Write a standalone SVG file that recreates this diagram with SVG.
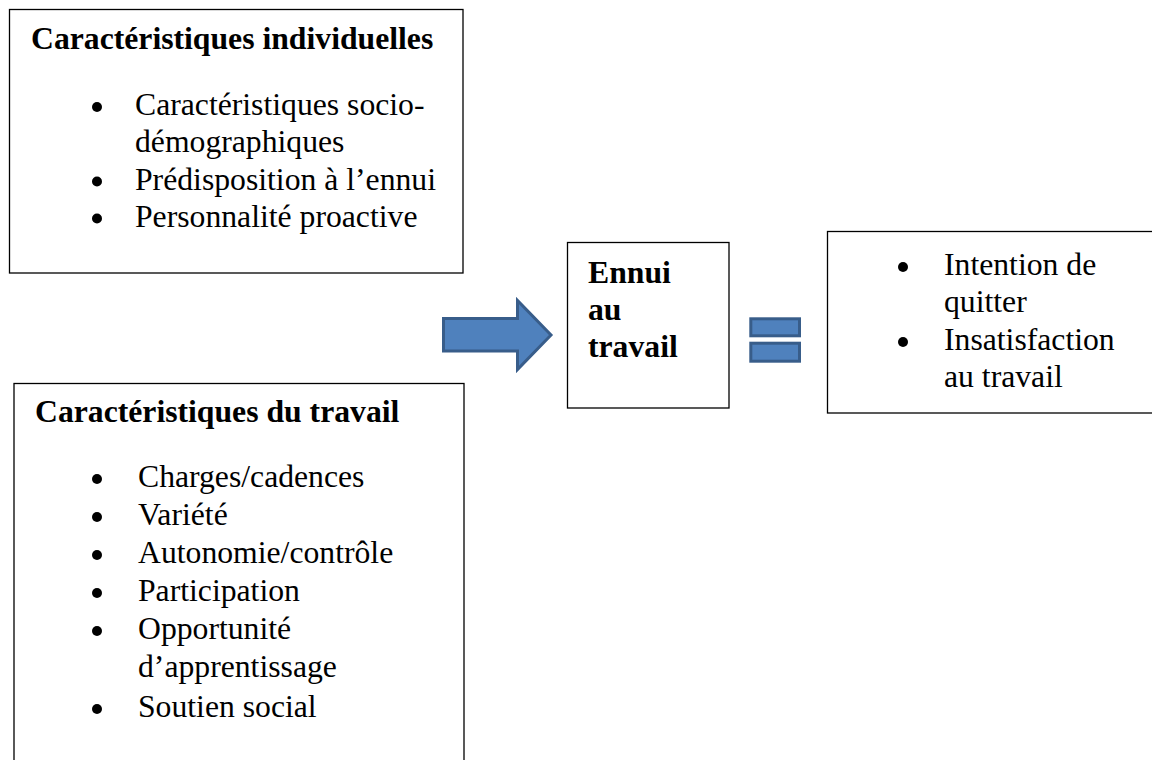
<svg xmlns="http://www.w3.org/2000/svg" width="1152" height="760" viewBox="0 0 1152 760">
<style>
.box{fill:#fff;stroke:#000;stroke-width:1.3}
.t{font-family:"Liberation Serif","Times New Roman",serif;font-size:31.7px;fill:#000}
.b{font-weight:bold}
.dot{fill:#000}
.shape{fill:#4F81BD;stroke:#385D8A;stroke-width:3}
</style>
<rect width="1152" height="760" fill="#fff"/>
<g id="individuelles">
<rect class="box" x="9.5" y="9.5" width="453.5" height="263.5"/>
<text class="t b" x="31" y="49">Caractéristiques individuelles</text>
<circle class="dot" cx="97" cy="107" r="5"/>
<text class="t" x="135" y="115">Caractéristiques socio-</text>
<text class="t" x="135" y="152">démographiques</text>
<circle class="dot" cx="97" cy="181.5" r="5"/>
<text class="t" x="135" y="189.5">Prédisposition à l’ennui</text>
<circle class="dot" cx="97" cy="218.5" r="5"/>
<text class="t" x="135" y="226.5">Personnalité proactive</text>
</g>
<g id="travail">
<rect class="box" x="14" y="383.5" width="450" height="400"/>
<text class="t b" x="35" y="422">Caractéristiques du travail</text>
<circle class="dot" cx="97" cy="479" r="5"/>
<text class="t" x="138" y="487">Charges/cadences</text>
<circle class="dot" cx="97" cy="517" r="5"/>
<text class="t" x="138" y="525">Variété</text>
<circle class="dot" cx="97" cy="555" r="5"/>
<text class="t" x="138" y="563">Autonomie/contrôle</text>
<circle class="dot" cx="97" cy="593" r="5"/>
<text class="t" x="138" y="601">Participation</text>
<circle class="dot" cx="97" cy="631" r="5"/>
<text class="t" x="138" y="639">Opportunité</text>
<text class="t" x="138" y="677">d’apprentissage</text>
<circle class="dot" cx="97" cy="709" r="5"/>
<text class="t" x="138" y="717">Soutien social</text>
</g>
<g id="ennui">
<rect class="box" x="567.5" y="242.5" width="161.5" height="165.5"/>
<text class="t b" x="588" y="283">Ennui</text>
<text class="t b" x="588" y="320">au</text>
<text class="t b" x="588" y="357">travail</text>
</g>
<g id="consequences">
<rect class="box" x="827.5" y="231.5" width="330" height="181.5"/>
<circle class="dot" cx="903" cy="267" r="5"/>
<text class="t" x="944" y="275">Intention de</text>
<text class="t" x="944" y="312">quitter</text>
<circle class="dot" cx="903" cy="342" r="5"/>
<text class="t" x="944" y="350">Insatisfaction</text>
<text class="t" x="944" y="387">au travail</text>
</g>
<g id="connectors">
<polygon class="shape" points="443.5,318.5 517.5,318.5 517.5,300.5 551,335 517.5,369.5 517.5,351 443.5,351"/>
<rect class="shape" x="750.8" y="318.8" width="48.7" height="17"/>
<rect class="shape" x="750.8" y="343.2" width="48.7" height="18"/>
</g>
</svg>
